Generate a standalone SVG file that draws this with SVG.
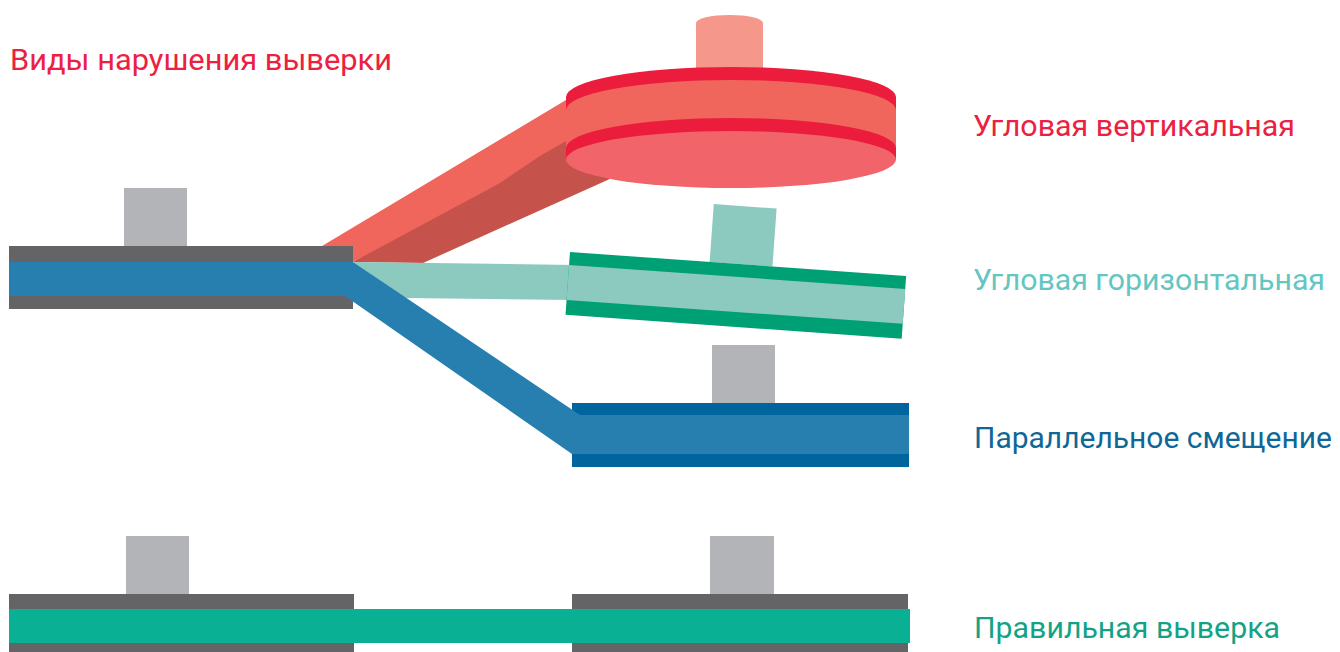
<svg xmlns="http://www.w3.org/2000/svg" width="1340" height="652" viewBox="0 0 1340 652">
  <style>
    .label { font-family: "Roboto", "Liberation Sans", sans-serif; font-size: 29px; }
    .plate { fill: #646466; }
    .block { fill: #b3b4b8; }
    .blue { fill: #277fb0; }
    .blue-dark { fill: #00659c; }
    .teal { fill: #8ccac0; }
    .teal-dark { fill: #00a075; }
    .red { fill: #f0665c; }
    .red-dark { fill: #c6524c; }
    .crimson { fill: #ec1c3c; }
    .green { fill: #0ab093; }
  </style>

  <rect width="1340" height="652" fill="#ffffff"/>

  <!-- title -->
  <text class="label" x="10" y="70" fill="#ec2040" textLength="382" lengthAdjust="spacingAndGlyphs">Виды нарушения выверки</text>

  <!-- angular vertical misalignment: arm and disk -->
  <g id="angular-vertical">
    <polygon class="red-dark" points="353,262 423,263 612,178 640,165 640,120 567,130"/>
    <polygon class="red" points="322,246 566,100 566,141 540,156 500,183 353,262"/>
    <rect x="696" y="23" width="67" height="60" fill="#f5978a"/>
    <ellipse cx="729.5" cy="23" rx="33.5" ry="8" fill="#f5978a"/>
    <!-- upper crimson rim -->
    <path class="crimson" d="M566,97 A165,30 0 0 1 896,97 L896,160 L566,160 Z"/>
    <!-- middle light band -->
    <path class="red" d="M566,110 A165,30 0 0 1 896,110 L896,148 L566,148 Z"/>
    <!-- lower crimson rim -->
    <path class="crimson" d="M566,148 A165,30 0 0 1 896,148 L896,160 L566,160 Z"/>
    <ellipse cx="731" cy="159.5" rx="165" ry="28.5" fill="#f0646a"/>
  </g>

  <!-- left coupling half, top -->
  <g id="left-hub-top">
    <rect class="block" x="124" y="188" width="63" height="58"/>
    <rect class="plate" x="9" y="246" width="344" height="63"/>
  </g>

  <!-- angular horizontal misalignment -->
  <g id="angular-horizontal">
    <polygon class="teal" points="353,262 575,265 575,300 405,298"/>
    <g transform="translate(570,252) rotate(4.08)">
      <rect class="teal" x="140" y="-58" width="63" height="58"/>
      <rect class="teal-dark" x="0" y="0" width="337" height="63"/>
      <rect class="teal" x="0" y="13" width="337" height="35"/>
    </g>
  </g>

  <!-- parallel offset -->
  <g id="parallel-offset">
    <rect class="block" x="712" y="345" width="63" height="58"/>
    <rect class="blue-dark" x="572" y="403" width="337" height="64"/>
    <polygon class="blue" points="9,262 353,262 580,415 909,415 909,454 572,454 345,296 9,296"/>
  </g>

  <!-- correct alignment -->
  <g id="correct-alignment">
    <rect class="block" x="126" y="536" width="63" height="58"/>
    <rect class="block" x="710" y="536" width="64" height="58"/>
    <rect class="plate" x="9" y="594" width="345" height="58"/>
    <rect class="plate" x="572" y="594" width="336" height="58"/>
    <rect class="green" x="9" y="609" width="901" height="34"/>
  </g>

  <!-- legend -->
  <g id="legend">
    <text class="label" x="973" y="135.5" fill="#ec2040" textLength="322" lengthAdjust="spacingAndGlyphs">Угловая вертикальная</text>
    <text class="label" x="973" y="290" fill="#63c6c2" textLength="352" lengthAdjust="spacingAndGlyphs">Угловая горизонтальная</text>
    <text class="label" x="974" y="448" fill="#0e6797" textLength="358" lengthAdjust="spacingAndGlyphs">Параллельное смещение</text>
    <text class="label" x="974" y="638" fill="#12a386" textLength="306" lengthAdjust="spacingAndGlyphs">Правильная выверка</text>
  </g>
</svg>
